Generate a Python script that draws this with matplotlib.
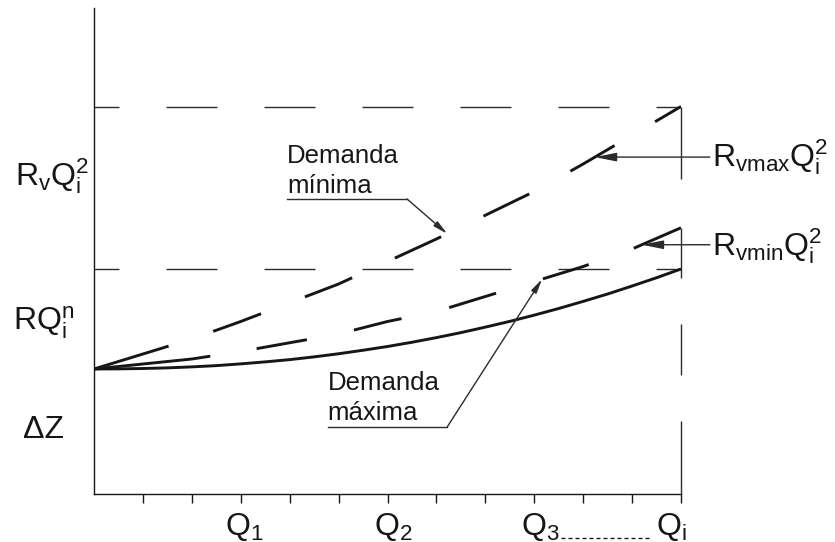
import numpy as np
import matplotlib
matplotlib.use("Agg")
import matplotlib.pyplot as plt

plt.rcParams['font.family'] = ['Liberation Sans', 'DejaVu Sans']
plt.rcParams['mathtext.fontset'] = 'custom'
plt.rcParams['mathtext.rm'] = 'Liberation Sans'
plt.rcParams['mathtext.it'] = 'Liberation Sans'
plt.rcParams['mathtext.bf'] = 'Liberation Sans:bold'
plt.rcParams['lines.scale_dashes'] = False

# ---- data -------------------------------------------------------------
# flow axis: 12 equal tick intervals, Q1, Q2, Q3 and Qi labelled
q = np.arange(13)
q_half = np.arange(25) / 2.0

# system curve ΔZ + R Q^n, read every half interval
head_friction = [10.00, 10.01, 10.04, 10.09, 10.17, 10.27, 10.41, 10.57, 10.75,
                 10.97, 11.22, 11.50, 11.80, 12.14, 12.51, 12.91, 13.35, 13.81,
                 14.31, 14.84, 15.41, 16.00, 16.64, 17.30, 18.00]
# curves with the control valve added
head_vmin = [10.0, 10.4, 10.8, 11.4, 12.1, 12.8, 13.8, 14.6, 15.8, 17.0, 18.2, 19.6, 21.3]
head_vmax = [10.0, 11.2, 12.4, 13.8, 15.3, 16.8, 18.6, 20.4, 22.3, 24.2, 26.4, 28.7, 31.0]

static_head = 10.0      # ΔZ
friction_level = 18.0   # ΔZ + R Qi^n
valve_level = 31.0      # ΔZ + R Qi^n + Rv Qi^2

tick_positions = list(range(1, 13))
q_label_pos = [3, 6, 9, 12]
q_label_text = [r'$\mathregular{Q_1}$', r'$\mathregular{Q_2}$',
                r'$\mathregular{Q_3}$', r'$\mathregular{Q_i}$']

# flow at which each pointer meets its curve
q_ptr_min_demand = 7.22
q_ptr_max_demand = 9.16
q_ptr_rvmax = 10.24
q_ptr_rvmin = 11.2

# ---- figure -----------------------------------------------------------
W, H = 835, 542
fig = plt.figure(figsize=(W / 100, H / 100), dpi=100)
ax = fig.add_axes([94 / W, (H - 494) / H, 587 / W, 486 / H])
ax.set_xlim(0, 12)
ax.set_ylim(0, 38.88)

INK = '#161616'
THIN = '#2b2b2b'


def pts(seq):
    """pixel lengths -> points"""
    return [v * 0.72 for v in seq]


# spines / ticks
for s in ('top', 'right'):
    ax.spines[s].set_visible(False)
for s in ('left', 'bottom'):
    ax.spines[s].set_linewidth(1.0)
    ax.spines[s].set_color(INK)
ax.set_yticks([])
ax.set_xticks(tick_positions)
ax.set_xticklabels([])
ax.tick_params(axis='x', direction='out', length=6.5, width=1.0, color=INK)

# reference levels
for lvl in (friction_level, valve_level):
    ax.axhline(lvl, color=THIN, lw=1.0,
               linestyle=(26 * 0.72, pts([51, 47])), dash_capstyle='butt')
ax.vlines(q[-1], 0, valve_level, color=THIN, lw=1.0, clip_on=False,
          linestyles=[(0, pts([73, 46, 51, 46, 50, 49, 73, 20]))])

# curves
ax.plot(q_half, head_friction, color=INK, lw=2.1, solid_capstyle='butt',
        solid_joinstyle='round')
ax.plot(q, head_vmin, color=INK, lw=2.1, dash_capstyle='butt',
        linestyle=(0, pts([117, 47, 51, 48, 49, 49, 49, 49, 48, 48, 52, 48])))
ax.plot(q, head_vmax, color=INK, lw=2.1, dash_capstyle='butt',
        linestyle=(0, pts([78, 47, 51, 47, 51, 47, 51, 47, 51, 47, 51, 47, 51, 47])))

# ---- annotations ------------------------------------------------------
small_head = dict(arrowstyle='-|>,head_length=0.85,head_width=0.18',
                  mutation_scale=10, lw=1.0, color=THIN,
                  shrinkA=0, shrinkB=0)
big_head = dict(arrowstyle='-|>,head_length=1.3,head_width=0.26',
                mutation_scale=10, lw=1.0, color=THIN,
                shrinkA=0, shrinkB=0)

# "Demanda mínima" -> Rvmax curve
ax.text(3.945, 26.48, 'Demanda', fontsize=18.5, color=INK, va='baseline', ha='left')
ax.text(3.945, 24.08, 'mínima', fontsize=18.5, color=INK, va='baseline', ha='left')
ax.plot([3.945, 6.40], [23.6, 23.6], color=THIN, lw=1.0, clip_on=False)
ax.annotate('', xy=(q_ptr_min_demand, np.interp(q_ptr_min_demand, q, head_vmax)),
            xytext=(6.40, 23.6), arrowprops=small_head)

# "Demanda máxima" -> Rvmin curve
ax.text(4.78, 8.32, 'Demanda', fontsize=18.5, color=INK, va='baseline', ha='left')
ax.text(4.78, 5.92, 'máxima', fontsize=18.5, color=INK, va='baseline', ha='left')
ax.plot([4.78, 7.22], [5.36, 5.36], color=THIN, lw=1.0, clip_on=False)
ax.annotate('', xy=(q_ptr_max_demand, np.interp(q_ptr_max_demand, q, head_vmin)),
            xytext=(7.22, 5.36), arrowprops=small_head)

# right-hand curve labels
y_rvmax = np.interp(q_ptr_rvmax, q, head_vmax)
ax.annotate('', xy=(q_ptr_rvmax, y_rvmax), xytext=(12.59, y_rvmax),
            arrowprops=big_head, annotation_clip=False)
ax.text(12.64, 26.2, r'$\mathregular{R_{vmax}Q_i^2}$', fontsize=23, color=INK,
        va='baseline', ha='left', clip_on=False)

y_rvmin = np.interp(q_ptr_rvmin, q, head_vmin)
ax.annotate('', xy=(q_ptr_rvmin, y_rvmin), xytext=(12.59, y_rvmin),
            arrowprops=big_head, annotation_clip=False)
ax.text(12.64, 19.12, r'$\mathregular{R_{vmin}Q_i^2}$', fontsize=23, color=INK,
        va='baseline', ha='left', clip_on=False)

# left-hand head components
ax.text(-1.615, 24.72, r'$\mathregular{R_vQ_i^2}$', fontsize=23, color=INK,
        va='baseline', ha='left', clip_on=False)
ax.text(-1.656, 13.12, r'$\mathregular{RQ_i^n}$', fontsize=23, color=INK,
        va='baseline', ha='left', clip_on=False)
ax.text(-1.451, 4.48, 'ΔZ', fontsize=23, color=INK,
        va='baseline', ha='left', clip_on=False)

# flow labels
offsets = [0.32, 0.28, 0.27, 0.51]
for pos, lab, off in zip(q_label_pos, q_label_text, offsets):
    ax.text(pos - off, -3.25, lab, fontsize=23, color=INK,
            va='baseline', ha='left', clip_on=False)
ax.plot([9.55, 11.37], [-3.5, -3.5], color=INK, lw=1.0, clip_on=False,
        linestyle=(0, pts([4, 3])))

fig.savefig('out.png', dpi=100)
